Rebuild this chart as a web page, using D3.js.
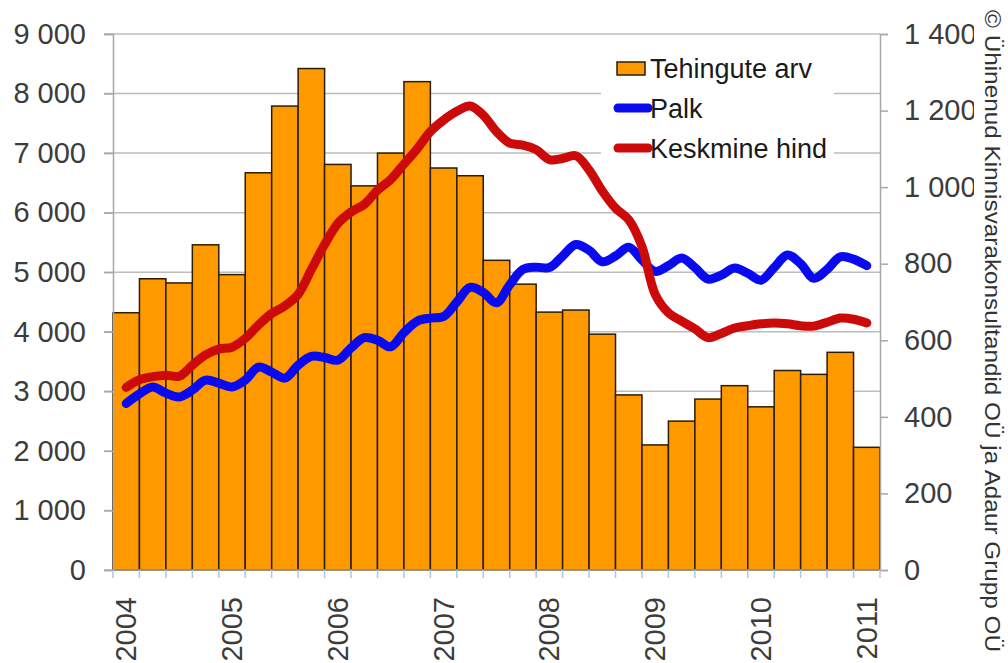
<!DOCTYPE html>
<html>
<head>
<script src="https://d3js.org/d3.v7.min.js"></script>
<title>Tehingute arv, palk ja keskmine hind</title>
<style>
body {margin:0; background:#fff;}
text {font-family:"Liberation Sans", Arial, sans-serif;}
</style>
</head>
<body>
<div id="myDiv"></div>
<script>
// quarters 2004 K1 .. 2011 K1
var quarters = [];
for (var yr = 2004; yr <= 2011; yr++) {
	for (var q = 1; q <= 4; q++) {
		if (yr == 2011 && q > 1) break;
		quarters.push(yr + " K" + q);
	}
}
var yearLabels = ["2004","2005","2006","2007","2008","2009","2010","2011"];

// Tehingute arv (left axis)
var tehingud = [4320,4890,4820,5460,4960,6670,7790,8420,6810,6450,7000,8200,6750,6620,
	5200,4800,4330,4365,3960,2940,2100,2500,2870,3095,2740,3350,3285,3655,2060];

// lines, one value every half quarter (right axis)
var palk = [435,460,478,462,452,470,496,488,478,496,530,517,501,535,558,555,548,580,607,600,
	583,620,650,658,662,700,738,725,698,745,785,791,790,820,850,835,805,820,843,810,
	780,795,815,790,760,770,789,775,757,790,823,800,762,785,818,812,795];
var hind = [477,497,505,509,506,535,562,577,582,605,640,670,690,720,785,850,905,935,955,992,
	1020,1060,1100,1145,1175,1198,1212,1188,1145,1115,1110,1098,1072,1075,1082,1045,990,945,915,845,
	720,672,650,630,607,618,632,638,643,645,643,638,637,647,658,655,645];

var leftTicks = [0,1000,2000,3000,4000,5000,6000,7000,8000,9000];
var rightTicks = [0,200,400,600,800,1000,1200,1400];
var seriesNames = ["Tehingute arv","Palk","Keskmine hind"];
var credit = "\u00A9 \u00DChinenud Kinnisvarakonsultandid O\u00DC ja Adaur Grupp O\u00DC";

var W = 1008, H = 663;
var pL = 113, pR = 880, pT = 34, pB = 570;

var svg = d3.select("#myDiv").append("svg")
	.attr("width", W)
	.attr("height", H);

var locale = d3.formatLocale({decimal:",", thousands:"\u00A0", grouping:[3], currency:["",""]});
var fmt = locale.format(",");

// Scales
var xScale = d3.scaleBand().domain(quarters).range([pL, pR]).padding(0);
var yLeft = d3.scaleLinear().domain([0, 9000]).range([pB, pT]);
var yRight = d3.scaleLinear().domain([0, 1400]).range([pB, pT]);
var half = xScale.bandwidth() / 2;
var xLine = d3.scaleLinear()
	.domain([0, quarters.length - 1])
	.range([xScale(quarters[0]) + half, xScale(quarters[quarters.length - 1]) + half]);

// grid lines
svg.append("g").selectAll("line").data(leftTicks).enter().append("line")
	.attr("x1", pL - 9).attr("x2", pR)
	.attr("y1", function(d) {return yLeft(d);})
	.attr("y2", function(d) {return yLeft(d);})
	.attr("stroke", "#bdbdbd").attr("stroke-width", 1.5);

// bars
svg.append("g").selectAll("rect").data(tehingud).enter().append("rect")
	.attr("x", function(d, i) {return xScale(quarters[i]);})
	.attr("y", function(d) {return yLeft(d);})
	.attr("width", xScale.bandwidth())
	.attr("height", function(d) {return pB - yLeft(d);})
	.attr("fill", "#ff9900")
	.attr("stroke", "#2b1d08")
	.attr("stroke-width", 1.5);

// Left axis
var yaxis = d3.axisLeft(yLeft).tickValues(leftTicks).tickFormat(fmt).tickSize(9).tickPadding(18);
var gL = svg.append("g").attr("transform", "translate(" + pL + ",0)").call(yaxis);
gL.select(".domain").attr("stroke", "#a8a8a8").attr("stroke-width", 1.5);
gL.selectAll(".tick line").attr("stroke", "#a8a8a8").attr("stroke-width", 1.5);
gL.selectAll("text").attr("font-size", 29).attr("fill", "#3c3c3c");

// Right axis
var yaxis2 = d3.axisRight(yRight).tickValues(rightTicks).tickFormat(fmt).tickSize(8).tickPadding(16);
var gR = svg.append("g").attr("transform", "translate(" + pR + ",0)").call(yaxis2);
gR.select(".domain").attr("stroke", "#a8a8a8").attr("stroke-width", 1.5);
gR.selectAll(".tick line").attr("stroke", "#a8a8a8").attr("stroke-width", 1.5);
gR.selectAll("text").attr("font-size", 29).attr("fill", "#3c3c3c");

// bottom axis: ticks on quarter edges, labels on first quarter of each year
var edges = d3.range(quarters.length + 1);
svg.append("line").attr("x1", pL).attr("x2", pR).attr("y1", pB).attr("y2", pB)
	.attr("stroke", "#a8a8a8").attr("stroke-width", 1.5);
svg.append("g").selectAll("line").data(edges).enter().append("line")
	.attr("x1", function(d) {return pL + d * xScale.step();})
	.attr("x2", function(d) {return pL + d * xScale.step();})
	.attr("y1", pB).attr("y2", pB + 8)
	.attr("stroke", "#b8c4dc").attr("stroke-width", 1.5);
svg.append("g").selectAll("text").data(yearLabels).enter().append("text")
	.attr("transform", function(d) {
		return "translate(" + (xScale(d + " K1") + half + 10) + "," + (pB + 27) + ") rotate(-90)";
	})
	.attr("text-anchor", "end")
	.attr("font-size", 29)
	.attr("fill", "#3c3c3c")
	.text(function(d) {return d;});

// Lines
var line = d3.line()
	.x(function(d, i) {return xLine(i / 2);})
	.y(function(d) {return yRight(d);})
	.curve(d3.curveCatmullRom);

svg.append("path").datum(palk)
	.attr("d", line).attr("fill", "none")
	.attr("stroke", "#0a0af0").attr("stroke-width", 9).attr("stroke-linecap", "round");
svg.append("path").datum(hind)
	.attr("d", line).attr("fill", "none")
	.attr("stroke", "#cc0a0a").attr("stroke-width", 9).attr("stroke-linecap", "round");

// Legend
var lg = svg.append("g");
lg.append("rect").attr("x", 601).attr("y", 47).attr("width", 233).attr("height", 120).attr("fill", "#fff");
var legendColors = ["#ff9900", "#0a0af0", "#cc0a0a"];
seriesNames.forEach(function(name, i) {
	var cy = 68 + i * 40;
	if (i == 0) {
		lg.append("rect").attr("x", 617).attr("y", cy - 6).attr("width", 28).attr("height", 13)
			.attr("fill", legendColors[i]).attr("stroke", "#2b1d08").attr("stroke-width", 1.5);
	} else {
		lg.append("line").attr("x1", 618).attr("x2", 648).attr("y1", cy).attr("y2", cy)
			.attr("stroke", legendColors[i]).attr("stroke-width", 9).attr("stroke-linecap", "round");
	}
	lg.append("text").attr("x", 650).attr("y", cy + 10)
		.attr("font-size", 27).attr("fill", "#1a1a1a").text(name);
});

// credit
svg.append("rect").attr("x", 974).attr("y", 0).attr("width", 34).attr("height", H).attr("fill", "#fff");
svg.append("text")
	.attr("transform", "translate(985,10) rotate(90)")
	.attr("font-size", 22)
	.attr("textLength", 642)
	.attr("lengthAdjust", "spacingAndGlyphs")
	.attr("fill", "#333")
	.text(credit);
</script>
</body>
</html>
